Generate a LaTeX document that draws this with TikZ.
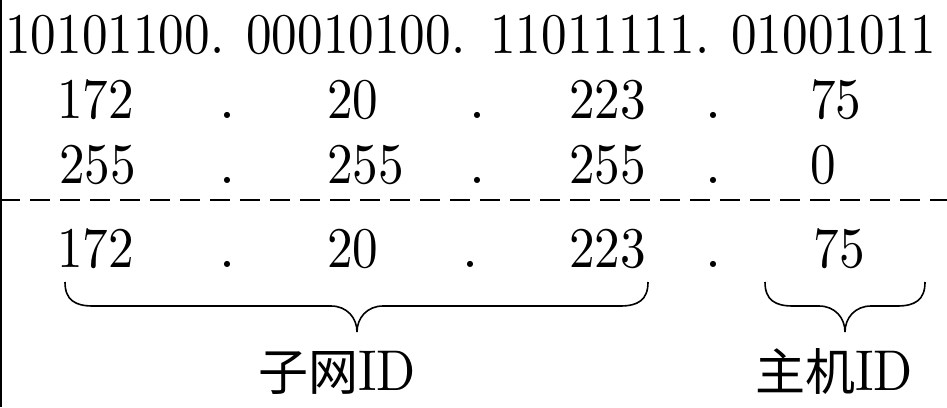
\documentclass[tikz,border=0pt]{standalone}
\usepackage{fontspec}
\setmainfont{lmroman10-regular.otf}
\newfontfamily\cjk{Noto Sans CJK SC}
\newcommand\ipfont{\fontsize{28.75}{30}\selectfont}
\newcommand\narrow[1]{\scalebox{0.89}[1]{#1}}

\begin{document}
\begin{tikzpicture}[x=0.5pt, y=-0.5pt,
        num/.style={anchor=base west, inner sep=0pt, font=\ipfont},
        sep/.style={anchor=base, inner sep=0pt, font=\ipfont},
        cn/.style={anchor=base west, inner sep=0pt, font=\ipfont},
        brace/.style={line width=.8pt}]
    \useasboundingbox (0,0) rectangle (947,407);
    \draw[line width=1pt] (1,0) -- (1,407);
    % binary
    \node[num] (b1) at (5,53) {\narrow{10101100.}};
    \node[num] (b2) at (246,53) {\narrow{00010100.}};
    \node[num] (b3) at (490,53) {\narrow{11011111.}};
    \node[num] (b4) at (731,53) {\narrow{01001011}};
    % address
    \node[num] (ip1) at (57,118) {\narrow{172}};
    \node[sep] (ipd1) at (227,118) {.};
    \node[num] (ip2) at (327,118) {\narrow{20}};
    \node[sep] (ipd2) at (477,118) {.};
    \node[num] (ip3) at (569,118) {\narrow{223}};
    \node[sep] (ipd3) at (713,118) {.};
    \node[num] (ip4) at (810,118) {\narrow{75}};
    % mask
    \node[num] (m1) at (59,183) {\narrow{255}};
    \node[sep] (md1) at (227,183) {.};
    \node[num] (m2) at (327,183) {\narrow{255}};
    \node[sep] (md2) at (477,183) {.};
    \node[num] (m3) at (569,183) {\narrow{255}};
    \node[sep] (md3) at (713,183) {.};
    \node[num] (m4) at (810,183) {\narrow{0}};
    \draw[line width=1pt, dash pattern=on 10pt off 5pt] (0,200) -- (947,200);
    % result
    \node[num] (n1) at (57,267) {\narrow{172}};
    \node[sep] (nd1) at (227,267) {.};
    \node[num] (n2) at (327,267) {\narrow{20}};
    \node[sep] (nd2) at (470,267) {.};
    \node[num] (n3) at (569,267) {\narrow{223}};
    \node[sep] (nd3) at (713,267) {.};
    \node[num] (n4) at (813,267) {\narrow{75}};
    % braces
    \draw[brace] (65,282) .. controls (65,300) and (75,306) .. (93,306) -- (331,306)
        .. controls (347,306) and (357,318) .. (357,332)
        .. controls (357,318) and (367,306) .. (383,306) -- (620,306)
        .. controls (638,306) and (648,300) .. (648,282);
    \draw[brace] (765,282) .. controls (765,300) and (775,306) .. (793,306) -- (819,306)
        .. controls (835,306) and (845,318) .. (845,332)
        .. controls (845,318) and (855,306) .. (871,306) -- (897,306)
        .. controls (915,306) and (925,300) .. (925,282);
    \node[cn] (net) at (258,390) {{\cjk\fontsize{25}{25}\selectfont 子网}\narrow{ID}};
    \node[cn] (host) at (755,390) {{\cjk\fontsize{25}{25}\selectfont 主机}\narrow{ID}};
\end{tikzpicture}
\end{document}
